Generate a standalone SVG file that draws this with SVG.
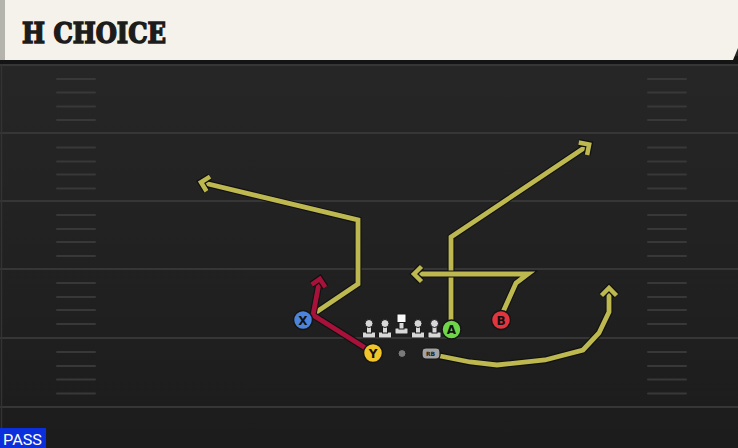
<svg xmlns="http://www.w3.org/2000/svg" width="738" height="448" viewBox="0 0 738 448">
<defs>
<linearGradient id="field" x1="0" y1="0" x2="0" y2="1">
<stop offset="0" stop-color="#282828"/>
<stop offset="1" stop-color="#1c1c1c"/>
</linearGradient>
<marker id="ahY" markerUnits="userSpaceOnUse" viewBox="-14 -12 18 24" markerWidth="18" markerHeight="24" refX="0" refY="0" orient="auto" overflow="visible">
<path d="M-8.5,-7.5 L-1,0 L-8.5,7.5" fill="none" stroke="#111" stroke-width="7" stroke-linejoin="miter" stroke-miterlimit="10"/>
<path d="M-8.5,-7.5 L-1,0 L-8.5,7.5" fill="none" stroke="#bdb84f" stroke-width="4.5" stroke-linejoin="miter" stroke-miterlimit="10"/>
</marker>
<marker id="ahR" markerUnits="userSpaceOnUse" viewBox="-14 -12 18 24" markerWidth="18" markerHeight="24" refX="0" refY="0" orient="auto" overflow="visible">
<path d="M-8,-7 L-1,0 L-8,7" fill="none" stroke="#111" stroke-width="7" stroke-linejoin="miter" stroke-miterlimit="10"/>
<path d="M-8,-7 L-1,0 L-8,7" fill="none" stroke="#a8123a" stroke-width="4.5" stroke-linejoin="miter" stroke-miterlimit="10"/>
</marker>
</defs>
<style>
.yl{stroke:#363636;stroke-width:2}
.hm{stroke:#383838;stroke-width:2;stroke-linecap:round}
.ol{fill:none;stroke:#111;stroke-width:7;stroke-linejoin:miter}
.ry{fill:none;stroke:#bdb84f;stroke-width:4.8;stroke-linejoin:miter}
.rr{fill:none;stroke:#a8123a;stroke-width:4.8;stroke-linejoin:miter}
.pc{stroke:#151515;stroke-width:1.5}
.lt{font-family:"DejaVu Sans",sans-serif;font-weight:bold;font-size:12px;fill:#111;text-anchor:middle}
.ln{fill:#d8d8d8;stroke:#1a1a1a;stroke-width:1}
</style>
<rect x="0" y="0" width="738" height="448" fill="url(#field)"/>
<rect x="0" y="56" width="738" height="9" fill="#141414"/>
<g id="field-lines">
<line class="yl" x1="0" y1="65" x2="738" y2="65"/>
<line class="yl" x1="0" y1="133" x2="738" y2="133"/>
<line class="yl" x1="0" y1="201" x2="738" y2="201"/>
<line class="yl" x1="0" y1="269" x2="738" y2="269"/>
<line class="yl" x1="0" y1="338" x2="738" y2="338"/>
<line class="yl" x1="0" y1="407" x2="738" y2="407"/>
<line x1="1.5" y1="64" x2="1.5" y2="448" stroke="#333" stroke-width="1.5"/>
</g>
<g id="hash-left">
<path class="hm" d="M57,79H95M57,92.5H95M57,106.5H95M57,120H95M57,147.5H95M57,161.5H95M57,174.5H95M57,188.5H95M57,215H95M57,229H95M57,242H95M57,256H95M57,283H95M57,297H95M57,310H95M57,324H95M57,352H95M57,366H95M57,379.5H95M57,393.5H95"/>
</g>
<g id="hash-right">
<path class="hm" d="M648,79H686M648,92.5H686M648,106.5H686M648,120H686M648,147.5H686M648,161.5H686M648,174.5H686M648,188.5H686M648,215H686M648,229H686M648,242H686M648,256H686M648,283H686M648,297H686M648,310H686M648,324H686M648,352H686M648,366H686M648,379.5H686M648,393.5H686"/>
</g>
<g id="header">
<polygon points="0,0 738,0 738,48 733,60 0,60" fill="#f5f2eb"/>
<rect x="0" y="0" width="5" height="60" fill="#b4b4ac"/>
<text x="22" y="43" font-family="'DejaVu Serif',serif" font-weight="bold" font-size="28" fill="#1c1c1c" stroke="#1c1c1c" stroke-width="1.6" textLength="144" lengthAdjust="spacingAndGlyphs">H CHOICE</text>
</g>
<g id="connectors">
<path class="ol" d="M312,315 L358,284 L358,220 L200,182"/>
<path class="ry" d="M312,315 L358,284 L358,220 L200,182" marker-end="url(#ahY)"/>
<path class="ol" d="M451,322 L451,237 L590,144"/>
<path class="ry" d="M451,322 L451,237 L590,144" marker-end="url(#ahY)"/>
<path class="ol" d="M503,312 L516,283 L528,274 L413,274"/>
<path class="ry" d="M503,312 L516,283 L528,274 L413,274" marker-end="url(#ahY)"/>
<path class="ol" d="M440,356 L470,362 L497,365 L545,360 L583,350 L599,333 L609,312 L609,287"/>
<path class="ry" d="M440,356 L470,362 L497,365 L545,360 L583,350 L599,333 L609,312 L609,287" marker-end="url(#ahY)"/>
<path class="ol" d="M367,349 L313,315 L320,278"/>
<path class="rr" d="M367,349 L313,315 L320,278" marker-end="url(#ahR)"/>
</g>
<g id="linemen">
<g transform="translate(369,0)"><rect class="ln" x="-6.5" y="332" width="13" height="6" rx="1"/><rect class="ln" x="-2.5" y="324" width="5" height="9"/><circle class="ln" cx="0" cy="323.5" r="4"/></g>
<g transform="translate(385,0)"><rect class="ln" x="-6.5" y="332" width="13" height="6" rx="1"/><rect class="ln" x="-2.5" y="324" width="5" height="9"/><circle class="ln" cx="0" cy="323.5" r="4"/></g>
<g transform="translate(401.5,0)"><rect class="ln" x="-6.5" y="328" width="13" height="6" rx="1"/><rect class="ln" x="-2.5" y="321" width="5" height="8"/><rect x="-4.5" y="314" width="9" height="8.5" fill="#fafafa" stroke="#1a1a1a" stroke-width="1"/></g>
<g transform="translate(418,0)"><rect class="ln" x="-6.5" y="332" width="13" height="6" rx="1"/><rect class="ln" x="-2.5" y="324" width="5" height="9"/><circle class="ln" cx="0" cy="323.5" r="4"/></g>
<g transform="translate(434.5,0)"><rect class="ln" x="-6.5" y="332" width="13" height="6" rx="1"/><rect class="ln" x="-2.5" y="324" width="5" height="9"/><circle class="ln" cx="0" cy="323.5" r="4"/></g>
</g>
<g id="ball"><circle cx="402" cy="353.5" r="4" fill="#7a7a7a" stroke="#151515" stroke-width="1"/></g>
<g id="player-X"><circle class="pc" cx="303" cy="320" r="9.5" fill="#4c84dc"/><text class="lt" x="303" y="324.5">X</text></g>
<g id="player-Y"><circle class="pc" cx="373" cy="353" r="9.5" fill="#f1c42a"/><text class="lt" x="373" y="357.5">Y</text></g>
<g id="player-A"><circle class="pc" cx="451.5" cy="329.5" r="9.5" fill="#6fd548"/><text class="lt" x="451.5" y="334">A</text></g>
<g id="player-B"><circle class="pc" cx="501" cy="320" r="9.5" fill="#e2353e"/><text class="lt" x="501" y="324.5">B</text></g>
<g id="player-RB"><rect x="422" y="348" width="18" height="11" rx="4" fill="#a3a3a3" stroke="#151515" stroke-width="1.2"/><text x="430.5" y="356" font-family="'DejaVu Sans',sans-serif" font-weight="bold" font-size="6" fill="#222" text-anchor="middle">RB</text></g>
<g id="pass-label">
<rect x="0" y="428" width="46" height="20" fill="#0b2fdc"/>
<text x="3" y="445" font-family="Roboto,sans-serif" font-size="15" fill="#ffffff" textLength="39" lengthAdjust="spacingAndGlyphs">PASS</text>
</g>
</svg>
